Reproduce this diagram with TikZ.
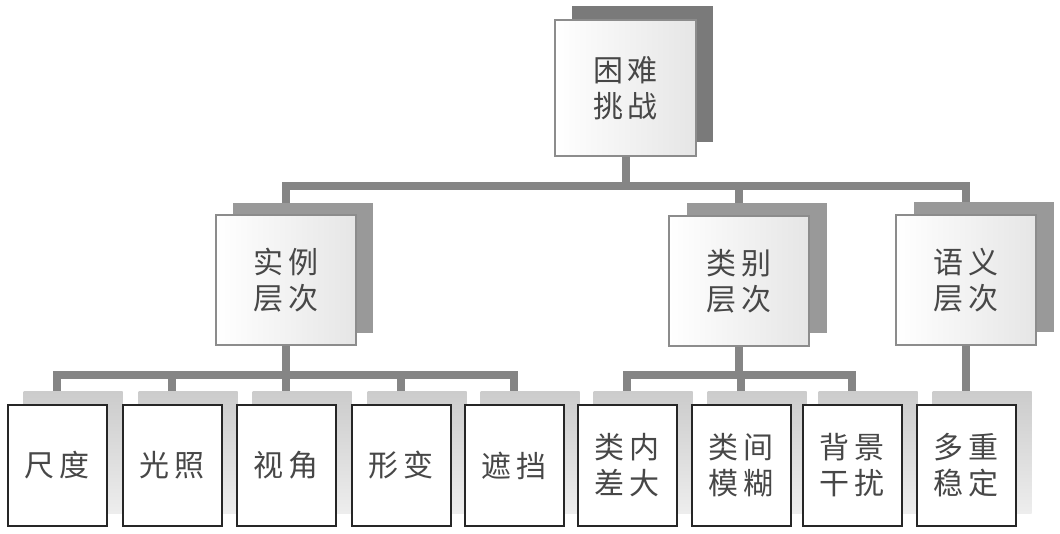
\documentclass[tikz,border=0pt]{standalone}
\usepackage{fontspec}
\newfontfamily\cjk{Noto Sans CJK SC}[FakeBold=0]
\begin{document}
\begin{tikzpicture}[x=1pt,y=-1pt,
  conn/.style={draw=black!48, line width=8pt, line join=miter, line cap=rect},
  txt/.style={font=\cjk\fontsize{30}{36}\selectfont, text=black!72, align=center, inner sep=0pt},
  midbox/.style={txt, draw=black!45, line width=1.3pt, left color=white, right color=black!10, minimum width=140pt, minimum height=130pt},
  midshadow/.style={fill=black!40, draw=none, minimum width=140pt, minimum height=130pt, inner sep=0pt},
  leafbox/.style={txt, draw=black!85, line width=2pt, fill=white, minimum width=99pt, minimum height=121pt},
  leafshadow/.style={draw=none, top color=black!20, bottom color=black!7, minimum width=99pt, minimum height=121pt, inner sep=0pt}
]
\useasboundingbox (0,0) rectangle (1060,534);
\fill[white] (0,0) rectangle (1060,534);

% coordinates of front boxes
\coordinate (ctop) at (625.5,88);
\coordinate (cinst) at (286,280);
\coordinate (ccls) at (739,281);
\coordinate (csem) at (966,280);
\foreach \n/\x in {l1/57,l2/172,l3/286,l4/401,l5/514,l6/627,l7/741,l8/852,l9/966}
  \coordinate (c\n) at (\x,465.5);

% bus levels
\coordinate (bus1) at (0,186);
\coordinate (bus2) at (0,375);

% connectors (drawn first)
\draw[conn] (ctop) -- (ctop |- bus1);
\draw[conn] (cinst) -- (cinst |- bus1) -- (csem |- bus1) -- (csem);
\draw[conn] (ccls |- bus1) -- (ccls);
\draw[conn] (cl1) -- (cl1 |- bus2) -- (cl5 |- bus2) -- (cl5);
\draw[conn] (cinst) -- (cinst |- bus2);
\foreach \n in {l2,l3,l4} \draw[conn] (c\n |- bus2) -- (c\n);
\draw[conn] (cl6) -- (cl6 |- bus2) -- (cl8 |- bus2) -- (cl8);
\draw[conn] (ccls) -- (ccls |- bus2);
\draw[conn] (cl7 |- bus2) -- (cl7);
\draw[conn] (csem) -- (cl9);

% shadows
\node[midshadow, fill=black!52, minimum width=141pt, minimum height=136pt] (stop) at ([shift={(17,-14)}]ctop) {};
\node[midshadow] (sinst) at ([shift={(17,-12)}]cinst) {};
\node[midshadow] (scls) at ([shift={(18,-13)}]ccls) {};
\node[midshadow] (ssem) at ([shift={(18,-13)}]csem) {};
\foreach \n in {l1,l2,l3,l4,l5,l6,l7,l8,l9}
  \node[leafshadow] (s\n) at ([shift={(16,-13)}]c\n) {};

% front boxes
\node[midbox, minimum width=141pt, minimum height=136pt] (top) at (ctop) {困\hspace{5pt}难\\挑\hspace{5pt}战};
\node[midbox] (inst) at (cinst) {实\hspace{5pt}例\\层\hspace{5pt}次};
\node[midbox] (cls) at (ccls) {类\hspace{5pt}别\\层\hspace{5pt}次};
\node[midbox] (sem) at (csem) {语\hspace{5pt}义\\层\hspace{5pt}次};

\node[leafbox] (l1) at (cl1) {尺\hspace{5pt}度};
\node[leafbox] (l2) at (cl2) {光\hspace{5pt}照};
\node[leafbox] (l3) at (cl3) {视\hspace{5pt}角};
\node[leafbox] (l4) at (cl4) {形\hspace{5pt}变};
\node[leafbox] (l5) at (cl5) {遮\hspace{5pt}挡};
\node[leafbox] (l6) at (cl6) {类\hspace{5pt}内\\差\hspace{5pt}大};
\node[leafbox] (l7) at (cl7) {类\hspace{5pt}间\\模\hspace{5pt}糊};
\node[leafbox] (l8) at (cl8) {背\hspace{5pt}景\\干\hspace{5pt}扰};
\node[leafbox] (l9) at (cl9) {多\hspace{5pt}重\\稳\hspace{5pt}定};
\end{tikzpicture}
\end{document}
